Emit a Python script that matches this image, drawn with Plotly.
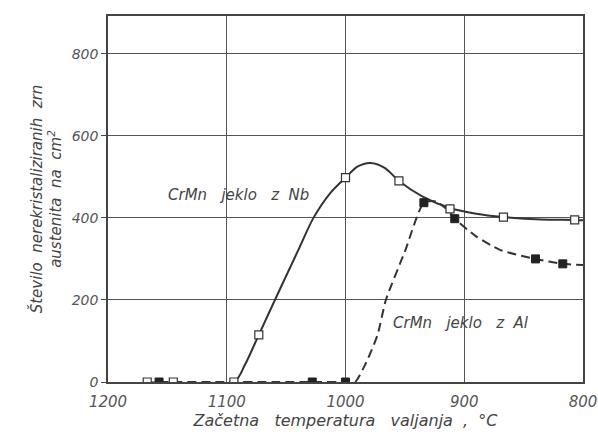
import plotly.graph_objects as go

# Marker data
nb_x = [1167, 1145, 1094, 1073, 1000, 955, 912, 867, 807]
nb_y = [0, 0, 0, 115, 498, 490, 422, 402, 395]
al_x = [1157, 1028, 1000, 934, 908, 840, 817]
al_y = [0, 0, 0, 437, 398, 300, 288]

# Curves as drawn
nb_curve_x = [1167, 1094, 1085, 1073, 1057, 1040, 1027, 1013, 1000, 990, 979, 967, 955, 935, 912, 890, 867, 835, 807, 800]
nb_curve_y = [0, 0, 40, 115, 215, 320, 400, 460, 498, 525, 534, 522, 490, 452, 424, 410, 402, 396, 395, 394]
al_curve_x = [1157, 1028, 1000, 992, 983, 973, 966, 950, 934, 924, 915, 908, 890, 870, 840, 817, 800]
al_curve_y = [0, 0, 0, 0, 45, 115, 200, 318, 437, 440, 422, 398, 355, 322, 300, 288, 285]

x_ticks = [1200, 1100, 1000, 900, 800]
y_ticks = [0, 200, 400, 600, 800]

ink = "#333333"
font_family = "DejaVu Sans"

fig = go.Figure()
fig.add_trace(go.Scatter(x=nb_curve_x, y=nb_curve_y, mode="lines",
                         line=dict(color=ink, width=2, shape="spline", smoothing=0.8),
                         hoverinfo="skip"))
fig.add_trace(go.Scatter(x=al_curve_x, y=al_curve_y, mode="lines",
                         line=dict(color=ink, width=2, dash="9px,5px", shape="spline", smoothing=0.6),
                         hoverinfo="skip"))
fig.add_trace(go.Scatter(x=nb_x, y=nb_y, mode="markers",
                         marker=dict(symbol="square", size=8, color="white",
                                     line=dict(color=ink, width=1.2))))
fig.add_trace(go.Scatter(x=al_x, y=al_y, mode="markers",
                         marker=dict(symbol="square", size=8, color="#222222",
                                     line=dict(color="#222222", width=1))))

fig.add_annotation(x=1090, y=456, text="CrMn   jeklo   z  Nb", showarrow=False,
                   font=dict(family=font_family, size=15, color="#444", style="italic"))
fig.add_annotation(x=903, y=144, text="CrMn   jeklo   z  Al", showarrow=False,
                   font=dict(family=font_family, size=15, color="#444", style="italic"))

fig.update_layout(
    width=598, height=441,
    margin=dict(l=108, r=15, t=16, b=59),
    paper_bgcolor="white", plot_bgcolor="white",
    showlegend=False,
    font=dict(family=font_family, color="#555", size=14, style="italic"),
)
fig.update_xaxes(range=[1200, 800], tickvals=x_ticks, ticktext=[str(v) for v in x_ticks],
                 showgrid=True, gridcolor="#555", gridwidth=1, automargin=False,
                 showline=True, linecolor="#444", linewidth=1.5, mirror=True,
                 ticks="", zeroline=False, ticklabelstandoff=5,
                 title=dict(text="Začetna   temperatura   valjanja  ,  °C", standoff=2,
                            font=dict(size=16, style="italic", color="#444")),
                 tickfont=dict(size=15, style="italic", color="#555"))
fig.update_yaxes(range=[0, 892], tickvals=y_ticks, ticktext=[str(v) for v in y_ticks],
                 showgrid=True, gridcolor="#555", gridwidth=1, automargin=False,
                 showline=True, linecolor="#444", linewidth=1.5, mirror=True,
                 ticks="outside", ticklen=5, tickcolor="#444", zeroline=False,
                 title=dict(text="Število  nerekristaliziranih  zrn<br>austenita  na  cm<sup>2</sup>",
                            standoff=6, font=dict(size=15, style="italic", color="#444")),
                 tickfont=dict(size=14, style="italic", color="#555"))

fig.write_html("out.html")
